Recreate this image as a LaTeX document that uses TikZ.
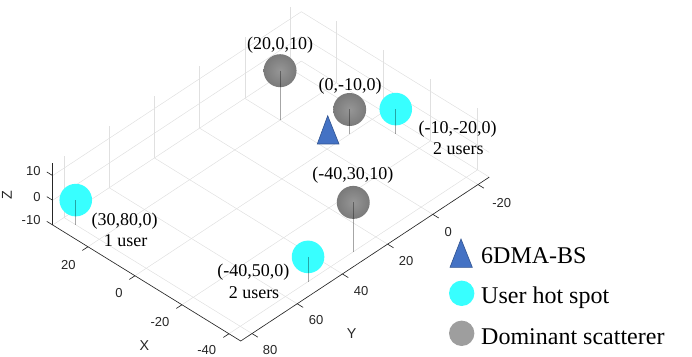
\documentclass[tikz,border=0pt]{standalone}
\usepackage{fontspec}
\setmainfont{Liberation Serif}
\newfontfamily\axfont{Liberation Sans}
\definecolor{gridc}{RGB}{224,224,224}
\definecolor{axc}{RGB}{38,38,38}
\definecolor{cyanc}{RGB}{56,255,255}
\definecolor{grayin}{RGB}{150,150,150}
\definecolor{grayout}{RGB}{122,122,122}
\definecolor{legray}{RGB}{158,158,158}
\definecolor{bsfill}{RGB}{68,114,196}
\definecolor{bsedge}{RGB}{47,82,143}
\tikzset{
  gridline/.style={draw=gridc, line width=0.5pt},
  axisline/.style={draw=axc, line width=0.65pt},
  tickmark/.style={draw=axc, line width=0.65pt},
  ticklab/.style={font=\axfont\fontsize{13}{15}\selectfont, text=axc, inner sep=0pt},
  axlab/.style={font=\axfont\fontsize{14.3}{16}\selectfont, text=axc, inner sep=0pt},
  datalab/.style={font=\fontsize{18}{20}\selectfont, inner sep=0pt, anchor=base},
  leglab/.style={font=\fontsize{24}{26}\selectfont, inner sep=0pt, anchor=base west},
  userball/.style={circle, fill=cyanc, inner sep=0pt, minimum size=32.6pt},
  scatball/.style={circle, inner color=grayin, outer color=grayout, inner sep=0pt, minimum size=33pt},
  stem/.style={draw=black, draw opacity=0.35, line width=0.6pt},
  bsmark/.style={fill=bsfill, draw=bsedge, line width=0.6pt, line join=miter}
}
\begin{document}
\begin{tikzpicture}[x=1pt,y=1pt]
\useasboundingbox (0,0) rectangle (692,356);
\begin{scope}[shift={(327.05pt,231.6pt)}, x={(-2.35pt,1.45pt)}, y={(-2.26pt,-1.49pt)}, z={(0pt,2.47pt)}]
  % floor grid
  \foreach \gx in {-40,-20,0,20} \draw[gridline] (\gx,-25,-10) -- (\gx,85,-10);
  \foreach \gy in {-20,0,20,40,60,80} \draw[gridline] (-45,\gy,-10) -- (35,\gy,-10);
  % back wall Y = -25
  \foreach \gx in {-40,-20,0,20} \draw[gridline] (\gx,-25,-10) -- (\gx,-25,15);
  \foreach \gz in {-10,0,10} \draw[gridline] (-45,-25,\gz) -- (35,-25,\gz);
  % back wall X = 35
  \foreach \gy in {-20,0,20,40,60,80} \draw[gridline] (35,\gy,-10) -- (35,\gy,15);
  \foreach \gz in {-10,0,10} \draw[gridline] (35,-25,\gz) -- (35,85,\gz);
  % axes
  \coordinate (cL) at (35,85,-10);
  \coordinate (cN) at (-45,85,-10);
  \coordinate (cR) at (-45,-25,-10);
  \coordinate (cT) at (35,85,15);
  \draw[axisline] (cL) -- (cN) -- (cR);
  \draw[axisline] (cL) -- (cT);
  \foreach \gx in {-40,-20,0,20} \draw[tickmark] (\gx,85,-10) -- (\gx,87.5,-10);
  \foreach \gy in {-20,0,20,40,60,80} \draw[tickmark] (-45,\gy,-10) -- (-47.5,\gy,-10);
  \foreach \gz in {-10,0,10} \draw[tickmark] (35,85,\gz) -- (37.5,85,\gz);
  % stems' floor points
  \coordinate (f1) at (20,0,-10);
  \coordinate (f2) at (0,-10,-10);
  \coordinate (f3) at (-40,30,-10);
  \coordinate (f4) at (-10,-20,-10);
  \coordinate (f5) at (-40,50,-10);
  \coordinate (f6) at (30,80,-10);
  % spheres
  \node[scatball] (s1) at (20,0,10) {};
  \node[scatball] (s2) at (0,-10,0) {};
  \node[scatball] (s3) at (-40,30,10) {};
  \node[userball] (u1) at (-10,-20,0) {};
  \node[userball] (u2) at (-40,50,0) {};
  \node[userball] (u3) at (30,80,0) {};
  \draw[stem] (s1.center) -- (f1);
  \draw[stem] (s2.center) -- (f2);
  \draw[stem] (s3.center) -- (f3);
  \draw[stem] (u1.center) -- (f4);
  \draw[stem] (u2.center) -- (f5);
  \draw[stem] (u3.center) -- (f6);
\end{scope}
% base station
\draw[bsmark] (327.7,240.3) -- (339,212) -- (317.3,212) -- cycle;
% data labels
\node[datalab] (l1) at (280,306) {(20,0,10)};
\node[datalab] (l2) at (350,265.9) {(0,-10,0)};
\node[datalab] (l3) at (457.5,222.5) {(-10,-20,0)};
\node[datalab] (l3b) at (458.3,201) {2 users};
\node[datalab] (l4) at (352.8,176) {(-40,30,10)};
\node[datalab] (l5) at (124.5,131) {(30,80,0)};
\node[datalab] (l5b) at (125.5,109.3) {1 user};
\node[datalab] (l6) at (253.3,79.2) {(-40,50,0)};
\node[datalab] (l6b) at (254,57.7) {2 users};
% tick labels
\node[ticklab] (tx1) at (68.3,91) {20};
\node[ticklab] (tx2) at (119,62.7) {0};
\node[ticklab] (tx3) at (160,33.7) {-20};
\node[ticklab] (tx4) at (206.7,6) {-40};
\node[ticklab] (ty1) at (270,6) {80};
\node[ticklab] (ty2) at (316,36) {60};
\node[ticklab] (ty3) at (361,65.3) {40};
\node[ticklab] (ty4) at (406,95.3) {20};
\node[ticklab] (ty5) at (448.3,124.3) {0};
\node[ticklab] (ty6) at (501.7,152.7) {-20};
\node[ticklab, anchor=east] (tz1) at (40.7,185) {10};
\node[ticklab, anchor=east] (tz2) at (40.7,159.3) {0};
\node[ticklab, anchor=east] (tz3) at (40.7,135.5) {-10};
\node[axlab] (ax) at (144.3,10) {X};
\node[axlab] (ay) at (351.7,22.7) {Y};
\node[axlab, rotate=90] (az) at (7,161) {Z};
% legend
\draw[bsmark] (461,117) -- (472.3,88.7) -- (450,88.7) -- cycle;
\node[circle, fill=cyanc, inner sep=0pt, minimum size=25.4pt] (lgu) at (461.7,62.7) {};
\node[circle, fill=legray, inner sep=0pt, minimum size=25.4pt] (lgs) at (461.7,22.7) {};
\node[leglab] (lt1) at (481,93) {6DMA-BS};
\node[leglab] (lt2) at (481,52.5) {User hot spot};
\node[leglab] (lt3) at (481,12) {Dominant scatterer};
\end{tikzpicture}
\end{document}
